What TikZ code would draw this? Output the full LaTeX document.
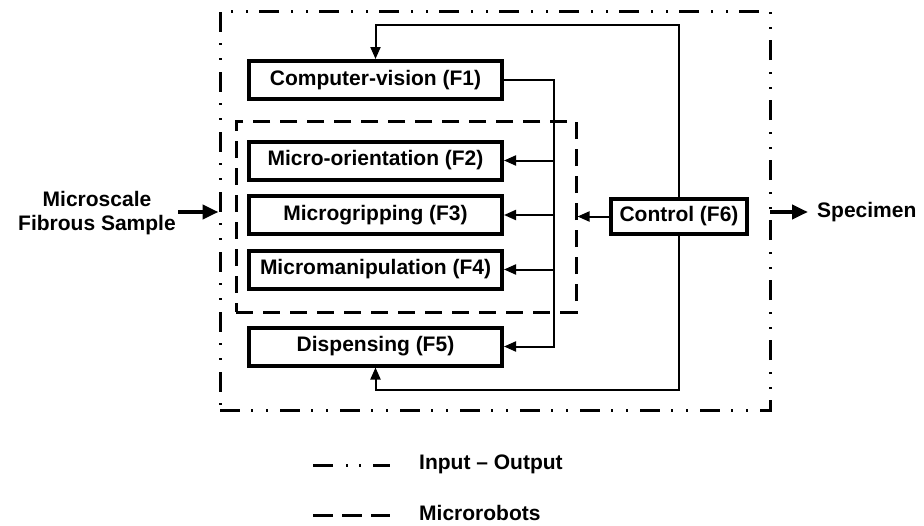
\documentclass[tikz,border=0pt]{standalone}
\usepackage{fontspec}
\setmainfont{Liberation Sans}
\usetikzlibrary{arrows.meta}
\begin{document}
\begin{tikzpicture}[x=1pt,y=-1pt,
  every node/.style={font=\fontsize{21}{24}\selectfont\bfseries},
  fbox/.style={draw, line width=4pt, minimum width=253pt, minimum height=38pt, inner sep=0pt},
  cbox/.style={draw, line width=4pt, minimum width=136pt, minimum height=35pt, inner sep=0pt},
  arr/.style={line width=2pt, -{Triangle[length=12pt,width=10pt]}},
  bigarr/.style={line width=4pt, -{Triangle[length=16pt,width=14pt]}},
  iostyle/.style={line width=3pt, dash pattern=on 20pt off 11pt on 2pt off 13pt on 2pt off 12pt},
  mrstyle/.style={line width=3pt, dash pattern=on 17pt off 10pt},
  lbl/.style={anchor=west, inner sep=0pt}
  ]
\useasboundingbox (0,0) rectangle (924,525);

% enclosures
\node[draw, iostyle, minimum width=550pt, minimum height=399pt, inner sep=0pt] (io) at (495,210.5) {};
\node[draw, mrstyle, minimum width=340pt, minimum height=191pt, inner sep=0pt] (mr) at (406,216.5) {};

% function boxes
\node[fbox] (f1) at (375.5,80) {Computer-vision (F1)};
\node[fbox] (f2) at (375.5,160.5) {Micro-orientation (F2)};
\node[fbox] (f3) at (375.5,215) {Microgripping (F3)};
\node[fbox] (f4) at (375.5,269.5) {Micromanipulation (F4)};
\node[fbox] (f5) at (375.5,346.5) {Dispensing (F5)};
\node[cbox] (ctrl) at (679,216.5) {Control (F6)};

% bus
\coordinate (bus) at (554,0);
\coordinate (top) at (0,25);
\coordinate (bot) at (0,390);
\draw[arr] (f1.east) -- (f1.east -| bus) -- (f5.east -| bus) -- (f5.east);
\draw[arr] (f2.east -| bus) -- (f2.east);
\draw[arr] (f3.east -| bus) -- (f3.east);
\draw[arr] (f4.east -| bus) -- (f4.east);

% control links
\draw[arr] (ctrl.north) -- (ctrl.north |- top) -- (f1.north |- top) -- (f1.north);
\draw[arr] (ctrl.south) -- (ctrl.south |- bot) -- (f5.south |- bot) -- (f5.south);
\draw[arr] (ctrl.west) -- (mr.east);

% input / output
\node[align=center, inner sep=0pt] (inp) at (97,213) {Microscale\\Fibrous Sample};
\coordinate (ins) at (178,212);
\draw[bigarr] (ins) -- (ins -| io.west);
\coordinate (outs) at (770,212);
\coordinate (oute) at (808,212);
\draw[bigarr] (outs) -- (oute);
\node[lbl] (spec) at (817,212) {Specimen};

% legend
\coordinate (l1a) at (313,465);
\coordinate (l1b) at (390,465);
\coordinate (l2a) at (313,515);
\coordinate (l2b) at (390,515);
\draw[line width=3pt, dash pattern=on 20pt off 13pt on 2pt off 11pt on 2pt off 12pt] (l1a) -- (l1b);
\draw[line width=3pt, dash pattern=on 20pt off 9pt] (l2a) -- (l2b);
\node[lbl] (lg1) at (419,464) {Input – Output};
\node[lbl] (lg2) at (419,513) {Microrobots};
\end{tikzpicture}
\end{document}
